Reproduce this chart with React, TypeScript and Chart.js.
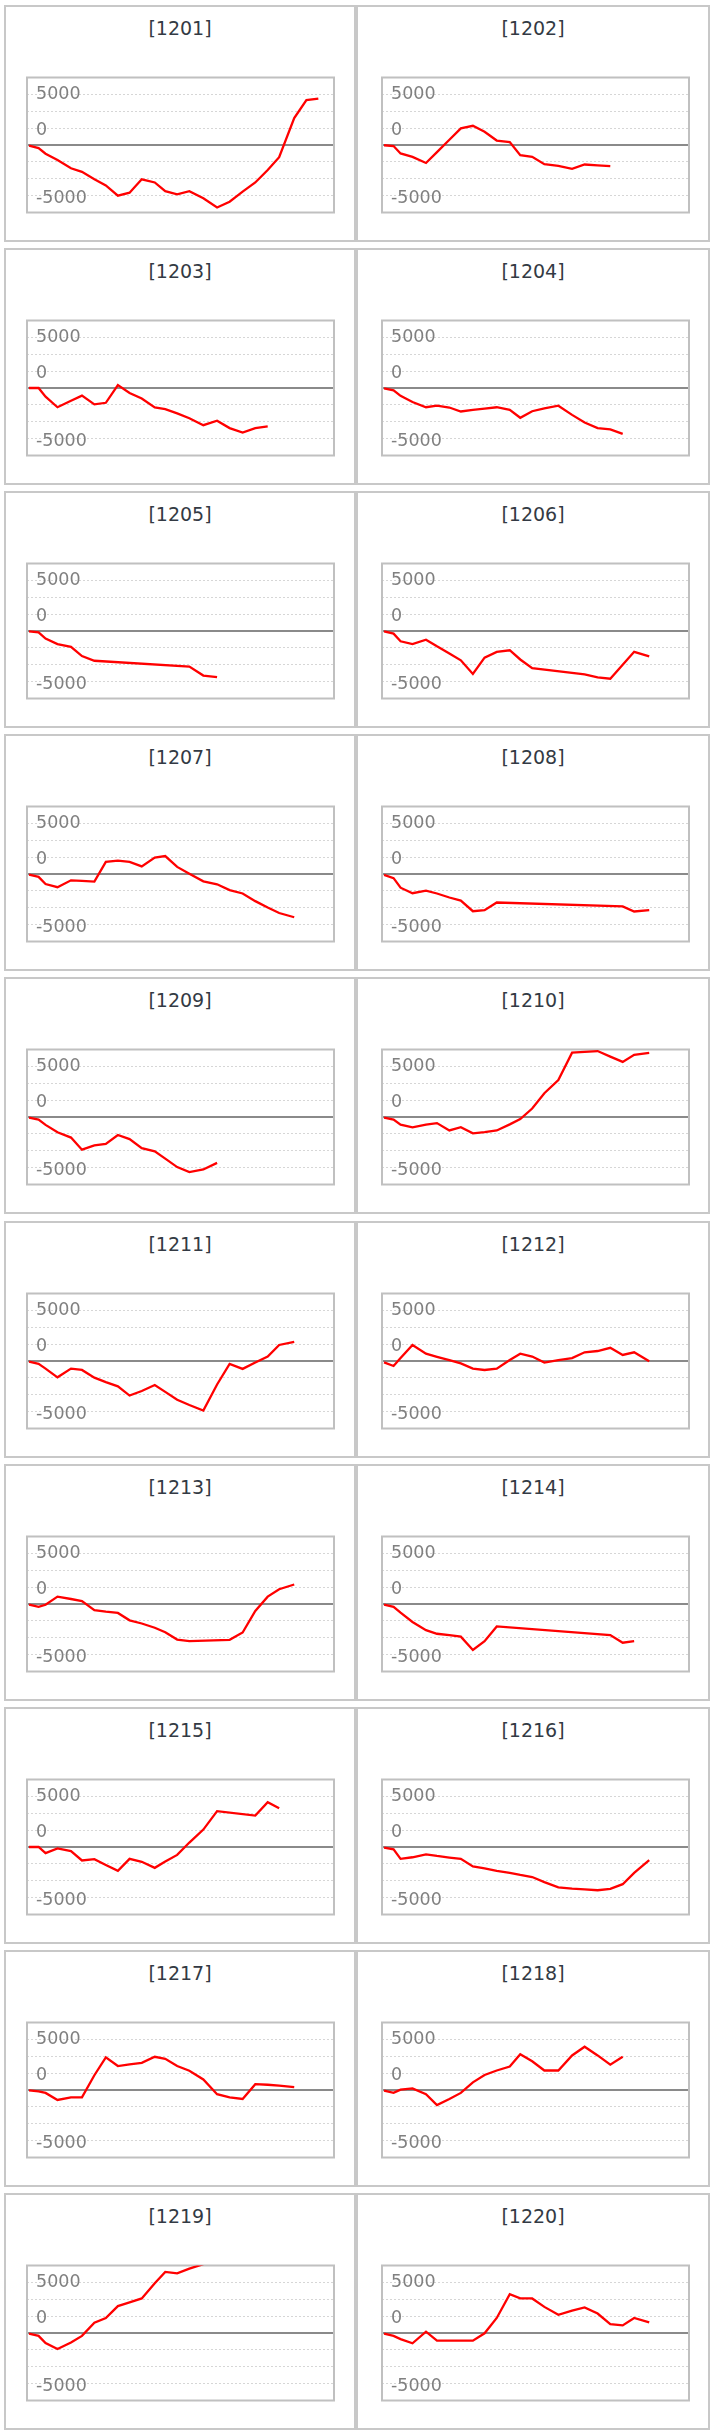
import React, { useRef, useEffect } from 'react';
import { Chart, registerables, type ChartConfiguration, type Plugin } from 'chart.js';

Chart.register(...registerables);

// positions des séances sur l'axe x (partagées par tous les graphiques)
const sessionX = [0, 0.79, 1.37, 2.36, 3.48, 4.39, 5.42, 6.37, 7.37, 8.34, 9.35, 10.43, 11.3, 12.29, 13.3, 14.46, 15.6, 16.64, 17.72, 18.77, 19.8, 20.75, 22, 23.01, 24];

// libellés de l'axe y tels qu'affichés, et leur position
const tickLabels = ['5000', '0', '-5000'];
const tickLabelValues = [7500, 2100, -7850];

const titles = ['[1201]', '[1202]', '[1203]', '[1204]', '[1205]', '[1206]', '[1207]', '[1208]', '[1209]', '[1210]',
  '[1211]', '[1212]', '[1213]', '[1214]', '[1215]', '[1216]', '[1217]', '[1218]', '[1219]', '[1220]'];

const s1201 = [-100, -470, -1290, -2230, -3440, -3980, -5080, -5980, -7500, -7070, -5080, -5550, -6840, -7300, -6840, -7890, -9260, -8400, -6910, -5550, -3710, -1800, 3980, 6640, 6870];
const s1202 = [-40, -160, -1250, -1760, -2660, -1050, 780, 2460, 2850, 1950, 660, 430, -1520, -1760, -2850, -3090, -3520, -2890, -3010, -3120];
const s1203 = [0, 0, -1290, -2850, -1880, -1130, -2420, -2190, 430, -740, -1560, -2890, -3120, -3750, -4490, -5510, -4840, -5940, -6600, -5940, -5700];
const s1204 = [-40, -350, -1170, -2070, -2850, -2620, -2890, -3480, -3240, -3050, -2850, -3240, -4410, -3440, -3010, -2620, -3980, -5120, -5940, -6130, -6800];
const s1205 = [-40, -200, -1130, -1950, -2340, -3710, -4410, null, null, null, null, null, null, null, -5270, -6600, -6840];
const s1206 = [-40, -390, -1520, -1950, -1290, -2270, -3320, -4340, -6370, -3950, -3090, -2850, -4220, -5510, null, null, null, -6410, -6870, -7070, null, -3090, -3750];
const s1207 = [-80, -430, -1480, -1950, -940, -1020, -1130, 1800, 1990, 1800, 1130, 2420, 2660, 1050, 40, -1090, -1520, -2380, -2890, -4020, -4960, -5780, -6410];
const s1208 = [-120, -620, -2030, -2850, -2460, -2890, -3480, -3950, -5510, -5350, -4220, null, null, null, null, null, null, null, null, null, -4800, -5550, -5350];
const s1209 = [-80, -390, -1170, -2270, -3050, -4840, -4220, -3980, -2660, -3280, -4610, -5080, -6170, -7420, -8160, -7770, -6800];
const s1210 = [-80, -390, -1130, -1520, -1130, -900, -1990, -1520, -2420, -2230, -1990, -1090, -310, 1250, 3520, 5470, 9530, 9650, 9770, 8950, 8160, 9220, 9490];
const s1211 = [-80, -430, -1130, -2420, -1130, -1330, -2460, -3120, -3750, -5120, -4450, -3550, -4570, -5740, -6520, -7340, -3480, -430, -1170, -230, 660, 2380, 2850];
const s1212 = [-200, -740, 430, 2380, 1090, 620, 120, -350, -1130, -1330, -1130, 160, 1090, 660, -230, 120, 430, 1290, 1480, 1950, 900, 1290, -40];
const s1213 = [-80, -430, -120, 1090, 740, 430, -900, -1130, -1330, -2420, -2890, -3520, -4180, -5270, -5510, null, null, -5310, -4220, -1020, 1090, 2190, 2890];
const s1214 = [-80, -430, -1290, -2660, -3870, -4410, -4610, -4840, -6800, -5510, -3320, null, null, null, null, null, null, null, null, -4610, -5740, -5510];
const s1215 = [0, 0, -900, -200, -620, -1990, -1800, -2660, -3520, -1760, -2190, -3090, -2150, -1170, 660, 2580, 5310, null, null, 4650, 6640, 5740];
const s1216 = [-80, -350, -1760, -1520, -1090, -1330, -1560, -1760, -2890, -3160, -3550, -3830, -4140, -4450, -5200, -5980, -6170, -6290, -6410, -6210, -5510, -3830, -1950];
const s1217 = [-40, -200, -430, -1480, -1090, -1090, 2190, 4840, 3550, 3790, 4020, 4920, 4610, 3550, 2850, 1560, -620, -1090, -1330, 860, 780, 660, 430];
const s1218 = [-80, -430, 40, 230, -620, -2230, -1330, -430, 1130, 2230, 2890, 3480, 5310, 4260, 2890, 2890, 5120, 6410, 5120, 3750, 4920];
const s1219 = [-80, -430, -1480, -2380, -1410, -430, 1520, 2230, 3980, 4530, 5120, 7380, 9060, 8830, 9530, 10200];
const s1220 = [-80, -430, -900, -1520, 200, -1130, -1130, -1130, -1130, -40, 2230, 5740, 5120, 5120, 3870, 2700, 3320, 3790, 2890, 1330, 1130, 2230, 1560];

const allSeries = [s1201, s1202, s1203, s1204, s1205, s1206, s1207, s1208, s1209, s1210,
  s1211, s1212, s1213, s1214, s1215, s1216, s1217, s1218, s1219, s1220];

const FONT = '"DejaVu Sans", Verdana, sans-serif';

// mise en page
const ROW_TOP = 5;
const ROW_PITCH = 243.1;
const CELL_H = 237;
const CELL_LEFT = [4, 356];
const CELL_W = [352, 354];
const BOX_LEFT = [23, 26];
const BOX_W = 307;
const BOX_TOP = 55;
const BOX_H = 170;
const PAD = 2;

// cadre gris autour de la zone de tracé
const framePlugin: Plugin<'line'> = {
  id: 'frame',
  beforeDatasetsDraw(chart) {
    const { ctx, chartArea: a } = chart;
    ctx.save();
    ctx.strokeStyle = '#c0c0c0';
    ctx.lineWidth = 2;
    ctx.strokeRect(a.left, a.top, a.right - a.left, a.bottom - a.top);
    ctx.restore();
  },
};

interface MiniChartProps {
  values: (number | null)[];
}

const MiniChart: React.FC<MiniChartProps> = ({ values }) => {
  const canvasRef = useRef<HTMLCanvasElement>(null);
  const chartInstance = useRef<Chart | null>(null);

  useEffect(() => {
    if (!canvasRef.current) return;
    if (chartInstance.current) {
      chartInstance.current.destroy();
      chartInstance.current = null;
    }

    const config: ChartConfiguration<'line'> = {
      type: 'line',
      data: {
        datasets: [{
          data: values.map((v, i) => ({ x: sessionX[i], y: v as number })),
          borderColor: '#ff0000',
          borderWidth: 2.3,
          pointRadius: 0,
          tension: 0,
          spanGaps: true,
          fill: false,
        }],
      },
      options: {
        responsive: false,
        animation: false,
        events: [],
        layout: { padding: PAD, autoPadding: false },
        plugins: { legend: { display: false }, tooltip: { enabled: false } },
        scales: {
          x: { type: 'linear', min: -0.17, max: 25.3, display: false },
          y: {
            min: -10000,
            max: 10000,
            afterFit: (axis) => { axis.width = 0; },
            ticks: { display: false, stepSize: 2500 },
            grid: {
              drawTicks: false,
              color: (c) => {
                const v = c.tick?.value;
                if (v === 0) return '#8a8a8a';
                if (v === 10000 || v === -10000) return 'rgba(0,0,0,0)';
                return '#d6d6d6';
              },
              lineWidth: (c) => (c.tick?.value === 0 ? 2 : 1),
            },
            border: {
              display: false,
              dash: (c) => (c.tick?.value === 0 ? [] : [2, 2]),
            },
          },
          yl: {
            type: 'linear',
            position: 'left',
            min: -10000,
            max: 10000,
            afterBuildTicks: (axis) => {
              axis.ticks = tickLabelValues.map((v) => ({ value: v }));
            },
            afterFit: (axis) => { axis.width = 0; },
            ticks: {
              mirror: true,
              padding: 9,
              color: '#808080',
              font: { family: FONT, size: 17.5 },
              callback: (_v, i) => tickLabels[i],
            },
            grid: { display: false, drawTicks: false },
            border: { display: false },
          },
        },
      },
      plugins: [framePlugin],
    };

    chartInstance.current = new Chart(canvasRef.current, config);

    return () => {
      if (chartInstance.current) {
        chartInstance.current.destroy();
        chartInstance.current = null;
      }
    };
  }, [values]);

  return (
    <canvas
      ref={canvasRef}
      width={BOX_W + PAD * 2}
      height={BOX_H + PAD * 2}
      style={{ width: BOX_W + PAD * 2, height: BOX_H + PAD * 2, display: 'block' }}
    />
  );
};

export default function App() {
  return (
    <div style={{ position: 'absolute', left: 0, top: 0, width: 715, height: 2436, background: '#fff', fontFamily: FONT }}>
      {allSeries.map((values, i) => {
        const col = i % 2;
        const row = Math.floor(i / 2);
        return (
          <div
            key={titles[i]}
            style={{
              position: 'absolute',
              left: CELL_LEFT[col],
              top: ROW_TOP + row * ROW_PITCH,
              width: CELL_W[col],
              height: CELL_H,
              boxSizing: 'border-box',
              border: '2px solid #c8c8c8',
            }}
          >
            <div
              style={{
                position: 'absolute',
                left: 0,
                right: 0,
                top: 12,
                textAlign: 'center',
                fontSize: 19,
                lineHeight: '19px',
                color: '#333a44',
              }}
            >
              {titles[i]}
            </div>
            <div style={{ position: 'absolute', left: BOX_LEFT[col] - 2 - PAD, top: BOX_TOP - 2 - PAD }}>
              <MiniChart values={values} />
            </div>
          </div>
        );
      })}
    </div>
  );
}
